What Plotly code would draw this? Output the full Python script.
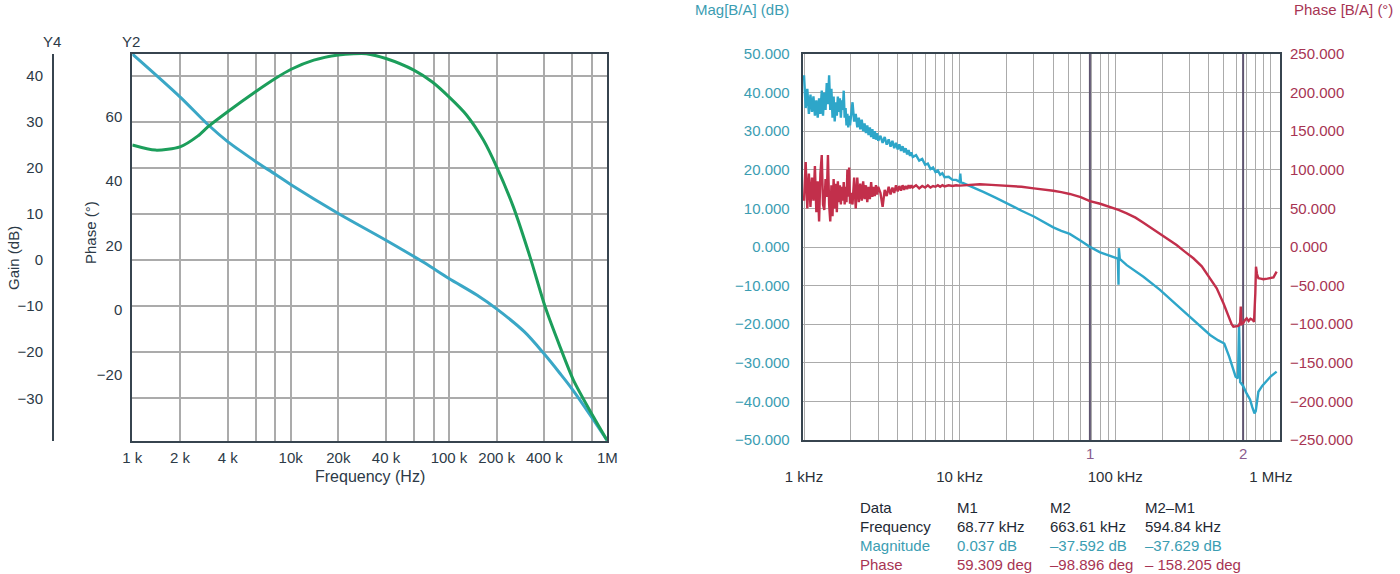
import math
import plotly.graph_objects as go

# ---------------- Left chart data (simulation) ----------------
lb_f = [1000, 2000, 3000, 4000, 5000, 6000, 8000, 10000, 20000, 40000, 70000, 100000,
        150000, 200000, 300000, 400000, 500000, 600000, 800000, 1000000]
lb_gain = [44.7, 35.4, 29.4, 25.7, 23.3, 21.4, 18.6, 16.4, 10.1, 4.3, -0.6, -4.0,
           -7.6, -10.6, -15.6, -20.4, -24.5, -28.0, -34.2, -39.2]

lg_f = [1000, 1400, 2000, 2600, 3000, 4000, 6000, 8000, 10000, 14000, 20000, 25000, 30000,
        40000, 60000, 78500, 100000, 129000, 165000, 200000, 255000, 325000, 405000,
        503000, 611000, 817000, 1000000]
lg_phase = [51.2, 49.6, 50.6, 54.0, 56.8, 61.5, 67.7, 71.8, 74.6, 77.5, 79.1, 79.5, 79.5,
            78.0, 74.4, 70.7, 66.1, 60.5, 52.7, 44.4, 32.0, 16.5, 1.0,
            -11.4, -21.7, -33.1, -40.5]

left_tick_vals = [1e3, 2e3, 4e3, 6e3, 8e3, 1e4, 2e4, 4e4, 6e4, 8e4, 1e5, 2e5, 4e5, 6e5, 8e5, 1e6]
left_tick_text = ["1 k", "2 k", "4 k", "", "", "10k", "20k", "40 k", "", "", "100 k", "200 k", "400 k", "", "", "1M"]
gain_ticks = [40, 30, 20, 10, 0, -10, -20, -30]
phase_ticks = [60, 40, 20, 0, -20]

# ---------------- Right chart data (measurement) ----------------
rm_f = [1000, 1025, 1050, 1075, 1100, 1125, 1150, 1175, 1200, 1225, 1250, 1275, 1300, 1325,
        1350, 1375, 1400, 1425, 1450, 1475, 1500, 1525, 1550, 1575, 1600, 1625, 1650, 1675,
        1700, 1725, 1750, 1775, 1800, 1825, 1850, 1875, 1900, 1925, 1950, 1975, 2000,
        2050, 2100, 2150, 2200, 2250, 2300, 2350, 2400, 2450, 2500, 2550, 2600, 2650, 2700,
        2750, 2800, 2850, 2900, 2950, 3000,
        3100, 3200, 3300, 3400, 3500, 3600, 3700, 3800, 3900, 4000, 4100, 4200, 4300, 4400,
        4500, 4600, 4700, 4800, 4900, 5000,
        5250, 5500, 5750, 6000, 6250, 6500, 6750, 7000, 7250, 7500, 7750, 8000, 8500, 9000,
        9500, 10000, 10100, 10200,
        12000, 14200, 17000, 20000, 25000, 30000, 35000, 40000, 45000, 51000, 60000, 68770,
        80000, 92700, 104000, 105000, 105500, 107000, 118600, 151800, 194000, 248000, 318000,
        407000, 460000, 502000, 540000, 594000, 615000, 625000, 635000, 663610, 700000,
        735000, 760000, 785000, 800000, 832000, 880000, 930000, 1000000, 1090000]
rm_mag = [44.5, 36.0, 41.0, 34.5, 39.5, 35.0, 39.0, 34.0, 38.0, 33.5, 38.5, 34.5, 40.5, 34.0,
          40.0, 35.5, 42.5, 37.0, 44.5, 35.5, 41.0, 33.5, 39.0, 32.5, 37.5, 34.0, 39.0, 35.0,
          38.5, 33.5, 38.0, 35.5, 40.5, 33.5, 36.0, 31.5, 34.5, 31.0, 34.0, 31.5, 33.5,
          37.5, 32.5, 34.5, 31.0, 33.5, 30.5, 33.0, 30.0, 32.0, 29.5, 31.5, 29.0, 31.0, 28.5,
          30.5, 28.0, 30.0, 27.8, 29.5, 27.5,
          28.8, 27.0, 28.5, 26.5, 27.9, 26.0, 27.5, 25.6, 27.0, 25.3, 26.6, 24.9, 26.1, 24.5,
          25.6, 24.0, 25.1, 23.6, 24.5, 23.3,
          23.8, 22.4, 22.8, 21.3, 21.6, 20.2, 20.6, 19.4, 19.8, 18.7, 19.1, 18.1, 18.2, 17.4,
          17.4, 16.9, 19.0, 16.8,
          15.6, 14.3, 12.8, 11.3, 9.4, 7.9, 6.4, 5.1, 4.2, 3.4, 1.6, 0.04,
          -1.4, -2.3, -3.0, -9.8, -0.3, -3.1, -4.7, -7.7, -11.1, -15.0, -18.9,
          -22.8, -24.2, -25.0, -28.4, -33.6, -34.0, -20.0, -35.0, -36.0, -38.0,
          -39.5, -41.5, -43.1, -42.5, -37.5, -36.0, -35.0, -33.5, -32.3]

rp_f = [1000, 1025, 1050, 1075, 1100, 1125, 1150, 1175, 1200, 1225, 1250, 1275, 1300, 1325,
        1350, 1375, 1400, 1425, 1450, 1475, 1500, 1525, 1550, 1575, 1600, 1625, 1650, 1675,
        1700, 1725, 1750, 1775, 1800, 1825, 1850, 1875, 1900, 1925, 1950, 1975, 2000,
        2050, 2100, 2150, 2200, 2250, 2300, 2350, 2400, 2450, 2500, 2550, 2600, 2650, 2700,
        2750, 2800, 2850, 2900, 2950, 3000,
        3100, 3200, 3300, 3400, 3500, 3600, 3700, 3800, 3900, 4000, 4100, 4200, 4300, 4400,
        4500, 4600, 4700, 4800, 4900, 5000,
        5250, 5500, 5750, 6000, 6250, 6500, 6750, 7000, 7250, 7500, 7750, 8000, 8500, 9000,
        9500, 10000,
        12000, 13500, 16000, 20000, 25000, 30000, 35000, 40000, 45000, 51000, 60000, 68770,
        80000, 92700, 105000, 118600, 135000, 151800, 170000, 194000, 220000, 248000, 280000,
        318000, 360000, 407000, 449000, 496000, 534000, 560000, 575000, 600000, 619000,
        635000, 641000, 648000, 663610, 680000, 700000, 720000, 740000, 765000, 780000,
        795000, 803000, 815000, 832000, 860000, 895000, 950000, 1000000, 1040000, 1090000]
rp_phase = [60, 110, 50, 95, 52, 90, 60, 105, 45, 85, 33, 95, 119, 55,
            48, 88, 65, 119, 55, 33, 80, 40, 88, 50, 82, 45, 85, 58,
            80, 55, 78, 60, 84, 55, 78, 58, 100, 65, 103, 56, 70,
            55, 90, 50, 90, 58, 82, 60, 85, 62, 80, 58, 78, 62, 84,
            65, 78, 66, 80, 68, 78,
            70, 52, 74, 66, 78, 68, 77, 70, 80, 72, 79, 73, 80, 74,
            79, 75, 80, 76, 80, 77,
            80, 76, 79, 77, 80, 77, 79, 78, 80, 78, 80, 78.5, 80, 79,
            80, 79.5,
            80.5, 81.2, 80.5, 79.5, 78.0, 76.0, 74.5, 72.9, 71.0, 68.7, 64.5, 59.3,
            56.0, 52.2, 48.0, 43.6, 38.0, 31.5, 25.0, 17.8, 10.0, 2.6, -6.0,
            -14.6, -25.0, -40.5, -53.5, -72.9, -90.3, -100.0, -103.2, -103.0, -102.3,
            -98.0, -77.0, -100.0, -98.9, -95.0, -92.4, -96.0, -93.0, -94.5, -97.0,
            -60.0, -25.5, -35.0, -40.5, -41.0, -41.8, -41.0, -40.5, -39.3, -32.0]

marker_freq = [68770, 663610]
marker_names = ["1", "2"]

right_decades = [1e3, 1e4, 1e5, 1e6]
right_decade_text = ["1 kHz", "10 kHz", "100 kHz", "1 MHz"]

table_col0 = ["Data", "Frequency", "Magnitude", "Phase"]
table_col1 = ["M1", "68.77 kHz", "0.037 dB", "59.309 deg"]
table_col2 = ["M2", "663.61 kHz", "–37.592 dB", "–98.896 deg"]
table_col3 = ["M2–M1", "594.84 kHz", "–37.629 dB", "– 158.205 deg"]

# ---------------- Styling ----------------
W, H = 1400, 574
FONT = "Liberation Sans, Arial, Helvetica, sans-serif"
DARK = "#2c3a47"
FRAME = "#37444f"
GRID_L = "#ababab"
GRID_R = "#ababab"
BLUE_L = "#3aa7c6"
GREEN_L = "#1c9e5b"
BLUE_R = "#2ea6c9"
RED_R = "#c22f4b"
TEAL_T = "#3b9db2"
RED_T = "#a73453"
MARK = "#5e5470"
MARK_T = "#8a5c8e"


def px(x):
    return x / W


def py(y):
    return (H - y) / H


ydom = [py(440.7), py(54)]
ydom_r = [py(440), py(54)]

fig = go.Figure()

# left chart traces
fig.add_trace(go.Scatter(x=lb_f, y=lb_gain, mode="lines", xaxis="x", yaxis="y",
                         line=dict(color=BLUE_L, width=3, shape="spline", smoothing=0.9),
                         showlegend=False, hoverinfo="skip"))
fig.add_trace(go.Scatter(x=lg_f, y=lg_phase, mode="lines", xaxis="x", yaxis="y2",
                         line=dict(color=GREEN_L, width=3, shape="spline", smoothing=0.7),
                         showlegend=False, hoverinfo="skip"))

# right chart marker lines
for mf in marker_freq:
    fig.add_trace(go.Scatter(x=[mf, mf], y=[-50, 50], mode="lines", xaxis="x2", yaxis="y3",
                             line=dict(color=MARK, width=2), showlegend=False, hoverinfo="skip"))

fig.add_trace(go.Scatter(x=rp_f, y=rp_phase, mode="lines", xaxis="x2", yaxis="y4",
                         line=dict(color=RED_R, width=2.4), showlegend=False, hoverinfo="skip"))
fig.add_trace(go.Scatter(x=rm_f, y=rm_mag, mode="lines", xaxis="x2", yaxis="y3",
                         line=dict(color=BLUE_R, width=2.4), showlegend=False, hoverinfo="skip"))

right_grid = []
for d in [1e3, 1e4, 1e5]:
    for m in range(1, 10):
        right_grid.append(m * d)
right_grid.append(1e6)
right_text = [right_decade_text[right_decades.index(v)] if v in right_decades else "" for v in right_grid]

shapes = []
for v in [1e4, 1e5]:
    shapes.append(dict(type="line", xref="x2", yref="paper", x0=math.log10(v), x1=math.log10(v),
                       y0=ydom_r[0], y1=ydom_r[1], line=dict(color="#9c9c9c", width=2.5), layer="below"))

annotations = []


def ann(text, x, y, size=15, color=DARK, xanchor="center", angle=0, xref="paper"):
    annotations.append(dict(text=text, x=x, y=y, xref=xref, yref="paper", showarrow=False,
                            xanchor=xanchor, yanchor="middle", textangle=angle,
                            font=dict(family=FONT, size=size, color=color)))


ann("Y4", px(52), py(42))
ann("Y2", px(131), py(42))
ann("Gain (dB)", px(13), py(258), angle=-90)
ann("Phase (°)", px(90), py(232), angle=-90)
ann("Frequency (Hz)", px(370), py(477), size=16)
ann("Mag[B/A] (dB)", px(742), py(10), color=TEAL_T)
ann("Phase [B/A] (°)", px(1343), py(10), color=RED_T)
for mf, nm in zip(marker_freq, marker_names):
    ann(nm, math.log10(mf), py(453), color=MARK_T, xref="x2")

row_y = [507, 526, 545, 564]
row_colors = ["#1e2934", "#1e2934", TEAL_T, RED_T]
col_x = [858, 955, 1048, 1143]
for ci, col in enumerate([table_col0, table_col1, table_col2, table_col3]):
    for ri, txt in enumerate(col):
        ann(txt, px(col_x[ci]), py(row_y[ri]), color=row_colors[ri], xanchor="left")

fig.update_layout(
    width=W, height=H,
    margin=dict(l=0, r=0, t=0, b=0, autoexpand=False),
    paper_bgcolor="white", plot_bgcolor="white",
    font=dict(family=FONT, size=15, color=DARK),
    shapes=shapes, annotations=annotations,
    xaxis=dict(domain=[px(132.3), px(607.3)], anchor="y", type="log", range=[3, 6],
               tickmode="array", tickvals=left_tick_vals, ticktext=left_tick_text,
               showgrid=True, gridcolor=GRID_L, gridwidth=1.6, automargin=False,
               showline=True, linecolor=FRAME, linewidth=2, mirror=True,
               ticks="outside", ticklen=2, tickcolor="rgba(0,0,0,0)",
               tickfont=dict(size=15, color=DARK), zeroline=False),
    yaxis=dict(domain=ydom, anchor="free", position=px(53), range=[-39.2, 44.7],
               tickmode="array", tickvals=gain_ticks, automargin=False,
               showgrid=True, gridcolor=GRID_L, gridwidth=1.6, zeroline=False,
               showline=True, linecolor=FRAME, linewidth=2,
               ticks="outside", ticklen=6, tickcolor="rgba(0,0,0,0)",
               tickfont=dict(size=15, color=DARK)),
    yaxis2=dict(overlaying="y", anchor="x", side="left", range=[-40.5, 79.4],
                tickmode="array", tickvals=phase_ticks, showgrid=False, zeroline=False,
                showline=True, linecolor=FRAME, linewidth=2, mirror=True, automargin=False,
                ticks="outside", ticklen=5, tickcolor="rgba(0,0,0,0)",
                tickfont=dict(size=15, color=DARK)),
    xaxis2=dict(domain=[px(802.7), px(1280)], anchor="y3", type="log", range=[2.9916, 6.059],
                tickmode="array", tickvals=right_grid, ticktext=right_text,
                showgrid=True, gridcolor=GRID_R, gridwidth=1, automargin=False,
                showline=True, linecolor=FRAME, linewidth=2, mirror=True,
                ticks="", ticklabelstandoff=22, zeroline=False,
                tickfont=dict(size=15, color="#2a2f36")),
    yaxis3=dict(domain=ydom_r, anchor="x2", range=[-50, 50], dtick=10, tick0=0,
                tickformat=".3f", showgrid=True, gridcolor=GRID_R, gridwidth=1, zeroline=False,
                showline=True, linecolor=FRAME, linewidth=2, mirror=True, automargin=False,
                ticks="outside", ticklen=8, tickcolor="rgba(0,0,0,0)",
                tickfont=dict(size=15, color=TEAL_T)),
    yaxis4=dict(overlaying="y3", anchor="x2", side="right", range=[-250, 250], dtick=50, tick0=0,
                tickformat=".3f", showgrid=False, zeroline=False, automargin=False,
                ticks="outside", ticklen=6, tickcolor="rgba(0,0,0,0)",
                tickfont=dict(size=15, color=RED_T)),
)

fig.write_html("out.html", config={"displayModeBar": False},
               post_script="document.body.style.margin='0';document.body.style.overflow='hidden';")
